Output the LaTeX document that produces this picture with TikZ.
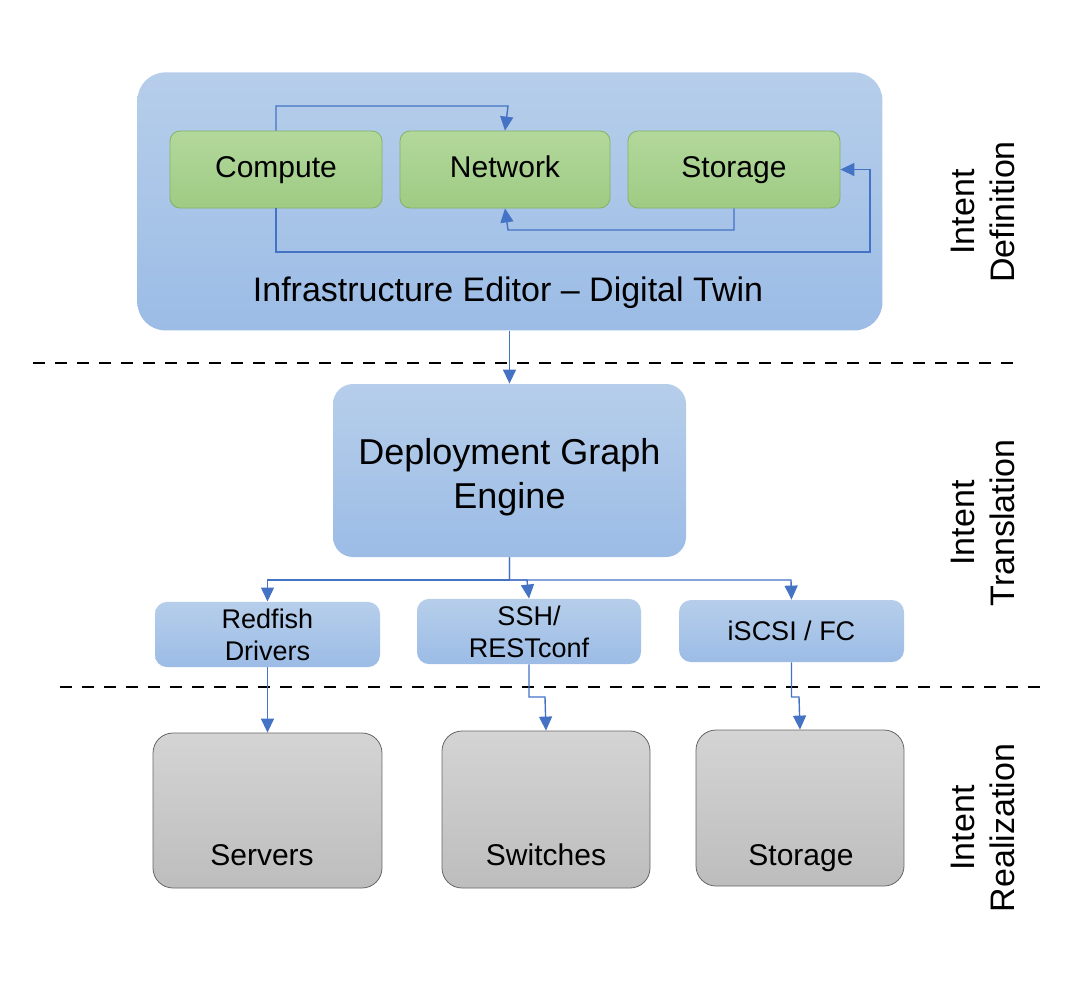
\documentclass[tikz,border=0pt]{standalone}
\usepackage{fontspec}
\setmainfont{Liberation Sans}
\usetikzlibrary{arrows.meta}

\definecolor{paneltop}{HTML}{B6CEEA}
\definecolor{panelbot}{HTML}{9CBCE6}
\definecolor{greentop}{HTML}{B3D89B}
\definecolor{greenbot}{HTML}{9ECB84}
\definecolor{greenline}{HTML}{82B366}
\definecolor{hwtop}{HTML}{D4D4D4}
\definecolor{hwbot}{HTML}{BDBDBD}
\definecolor{linkblue}{HTML}{4472C4}

\tikzset{
  panel/.style={draw=none,rounded corners=14pt,top color=paneltop,bottom color=panelbot,anchor=north west},
  comp/.style={draw=greenline,rounded corners=5pt,top color=greentop,bottom color=greenbot},
  blubox/.style={draw=none,rounded corners=6pt,top color=paneltop,bottom color=panelbot},
  hw/.style={draw=gray!80!black,rounded corners=10pt,top color=hwtop,bottom color=hwbot},
  link/.style={draw=linkblue,line width=0.7pt,-{Triangle[length=7pt,width=6.5pt]}},
  sep/.style={line width=1pt,dash pattern=on 6pt off 5pt},
  side/.style={rotate=90,align=center,font=\fontsize{17}{20}\selectfont}
}

\begin{document}
\begin{tikzpicture}[x=0.5pt,y=-0.5pt]
\useasboundingbox (0,0) rectangle (1078,986);

\node[panel,minimum width=372.5pt,minimum height=129pt] (editor) at (137,72) {};
\node[font=\fontsize{17}{19}\selectfont] (title) at (508,293) {Infrastructure Editor -- Digital Twin};

\node[comp,minimum width=106pt,minimum height=38.5pt,text height=11pt,text depth=3pt] (compute) at (276,169.5) {\fontsize{15}{17}\selectfont Compute};
\node[comp,minimum width=105pt,minimum height=38.5pt,text height=11pt,text depth=3pt] (network) at (505,169.5) {\fontsize{15}{17}\selectfont Network};
\node[comp,minimum width=106pt,minimum height=38.5pt,text height=11pt,text depth=3pt] (storage) at (734,169.5) {\fontsize{15}{17}\selectfont Storage};

\node[blubox,rounded corners=10pt,minimum width=176.5pt,minimum height=86.5pt,align=center,
  font=\fontsize{18}{22}\selectfont] (engine) at (509.5,470.5) {\\[-2pt]Deployment Graph\\Engine};

\node[blubox,minimum width=112.5pt,minimum height=30.5pt,align=center,font=\fontsize{13.5}{16}\selectfont] (redfish) at (267.5,634.5) {Redfish\\Drivers};
\node[blubox,minimum width=112pt,minimum height=30.5pt,align=center,font=\fontsize{13.5}{16}\selectfont] (ssh) at (529,631.5) {SSH/\\RESTconf};
\node[blubox,minimum width=112.5pt,minimum height=31pt,font=\fontsize{13.5}{14}\selectfont] (iscsi) at (791.5,631) {iSCSI / FC};

\node[hw,minimum width=114.5pt,minimum height=77.5pt] (servers) at (267.5,810.5) {};
\node[hw,minimum width=104pt,minimum height=78.5pt] (switches) at (546,809.5) {};
\node[hw,minimum width=104pt,minimum height=78pt] (stor) at (800,808) {};
\node[font=\fontsize{15}{17}\selectfont,text height=11pt,text depth=3pt] (lservers) at (262,857) {Servers};
\node[font=\fontsize{15}{17}\selectfont,text height=11pt,text depth=3pt] (lswitches) at (546,857) {Switches};
\node[font=\fontsize{15}{17}\selectfont,text height=11pt,text depth=3pt] (lstor) at (801,857) {Storage};

% layer separators
\coordinate (d1a) at (33,363);
\coordinate (d1b) at (1020,363);
\coordinate (d2a) at (60,687);
\coordinate (d2b) at (1045,687);
\draw[sep] (d1a) -- (d1b);
\draw[sep] (d2a) -- (d2b);

\node[side] (ldef) at (983,212) {Intent\\Definition};
\node[side] (ltrans) at (983,523) {Intent\\Translation};
\node[side] (lreal) at (983,828) {Intent\\Realization};

% editor links
\draw[link] (compute.north) |- (508,106) -- (network.north);
\draw[link] (storage.south) |- (508,230) -- (network.south);
\draw[link] (compute.south) |- (870,252) |- (storage.east);

\draw[link] (editor.south -| engine.north) -- (engine.north);
\draw[link] (engine.south) |- (508,580) -| (redfish.north);
\draw[link] (engine.south) |- (527,580) -- (ssh.north);
\draw[link] (engine.south) |- (791,580) -- (iscsi.north);

\draw[link] (redfish.south) -- (redfish.south |- servers.north);
\draw[link] (ssh.south) |- (545,697) -- (switches.north);
\draw[link] (iscsi.south) |- (799,697) -- (stor.north);
\end{tikzpicture}
\end{document}
